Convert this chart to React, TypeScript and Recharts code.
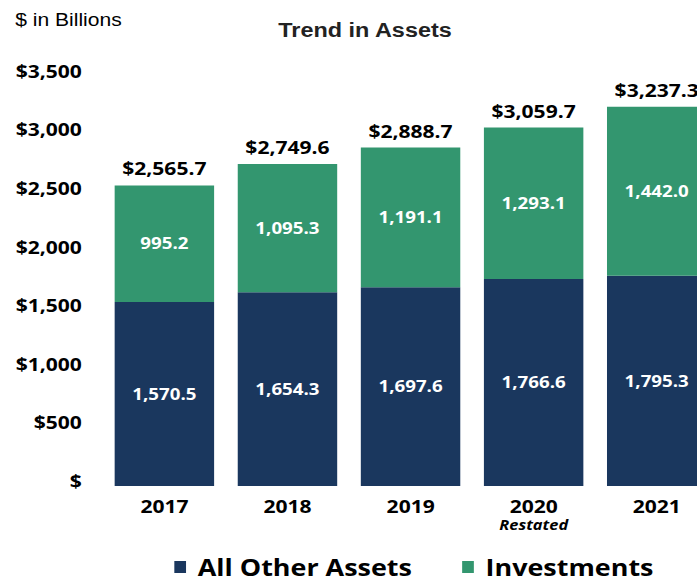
import React from 'react'
import { BarChart, Bar, XAxis, YAxis, LabelList, Legend } from 'recharts'

const years = ['2017', '2018', '2019', '2020', '2021']
const otherAssets = [1570.5, 1654.3, 1697.6, 1766.6, 1795.3]
const investments = [995.2, 1095.3, 1191.1, 1293.1, 1442.0]
const totals = [2565.7, 2749.6, 2888.7, 3059.7, 3237.3]
const yTicks = [0, 500, 1000, 1500, 2000, 2500, 3000, 3500]
const notes: Record<string, string> = { '2020': 'Restated' }

const NAVY = '#1a375e'
const GREEN = '#33966f'
const FONT = '"Open Sans", sans-serif'

const data = years.map((year, i) => ({
  year,
  other: otherAssets[i],
  investments: investments[i],
  total: totals[i],
}))

const fmt = (v: number) =>
  v.toLocaleString('en-US', { minimumFractionDigits: 1, maximumFractionDigits: 1 })

const YTick = (props: any) => {
  const { y, payload } = props
  const v = payload.value
  return (
    <text
      x={70}
      y={y - 5}
      textAnchor="end"
      dominantBaseline="central"
      fontFamily={FONT}
      fontWeight={700}
      fontSize={18}
      fill="#000"
    >
      {v === 0 ? '$' : '$' + v.toLocaleString('en-US')}
    </text>
  )
}

const XTick = (props: any) => {
  const { x, y, payload } = props
  const note = notes[payload.value]
  return (
    <g>
      <text
        x={x}
        y={y + 12}
        textAnchor="middle"
        dominantBaseline="central"
        fontFamily={FONT}
        fontWeight={700}
        fontSize={18}
        fill="#000"
      >
        {payload.value}
      </text>
      {note && (
        <text
          x={x}
          y={y + 30}
          textAnchor="middle"
          dominantBaseline="central"
          fontFamily={FONT}
          fontWeight={700}
          fontStyle="italic"
          fontSize={14}
          fill="#000"
        >
          {note}
        </text>
      )}
    </g>
  )
}

const LegendContent = () => {
  const items = [
    { name: 'All Other Assets', color: NAVY, x: 149 },
    { name: 'Investments', color: GREEN, x: 395 },
  ]
  return (
    <div style={{ position: 'relative', height: 30 }}>
      {items.map((it) => (
        <div
          key={it.name}
          style={{
            position: 'absolute',
            left: it.x,
            top: 0,
            display: 'flex',
            alignItems: 'center',
            height: 30,
            whiteSpace: 'nowrap',
          }}
        >
          <span style={{ width: 10, height: 12, background: it.color, display: 'inline-block' }} />
          <span
            style={{
              marginLeft: 10,
              fontFamily: FONT,
              fontWeight: 700,
              fontSize: 23,
              color: '#000',
            }}
          >
            {it.name}
          </span>
        </div>
      ))}
    </div>
  )
}

export default function App() {
  return (
    <div
      style={{
        position: 'fixed',
        left: 0,
        top: 0,
        width: 697,
        height: 579,
        overflow: 'hidden',
        background: '#fff',
      }}
    >
      <div
        style={{
          position: 'absolute',
          left: 0,
          top: 0,
          width: 620,
          height: 579,
          transform: 'scaleX(1.17)',
          transformOrigin: '0 0',
        }}
      >
        <div
          style={{
            position: 'absolute',
            left: 13,
            top: 9,
            fontFamily: '"Liberation Sans", Arial, sans-serif',
            fontSize: 18,
            lineHeight: '22px',
          }}
        >
          $ in Billions
        </div>
        <div
          style={{
            position: 'absolute',
            left: 212,
            width: 200,
            top: 18,
            textAlign: 'center',
            fontFamily: '"Liberation Sans", Arial, sans-serif',
            fontWeight: 700,
            fontSize: 20,
            lineHeight: '24px',
            color: '#222',
          }}
        >
          Trend in Assets
        </div>
        <BarChart
          width={620}
          height={579}
          data={data}
          margin={{ top: 76, right: 6, left: 0, bottom: 43 }}
          barSize={85}
        >
          <XAxis
            dataKey="year"
            axisLine={false}
            tickLine={false}
            tick={<XTick />}
            interval={0}
            height={50}
          />
          <YAxis
            domain={[0, 3500]}
            ticks={yTicks}
            axisLine={false}
            tickLine={false}
            tick={<YTick />}
            width={88}
          />
          <Legend
            verticalAlign="middle"
            align="center"
            layout="horizontal"
            wrapperStyle={{ top: 552, left: 0, width: 620 }}
            content={<LegendContent />}
          />
          <Bar dataKey="other" stackId="a" fill={NAVY} name="All Other Assets" isAnimationActive={false}>
            <LabelList
              dataKey="other"
              position="center"
              formatter={(v: any) => fmt(Number(v))}
              fill="#fff"
              fontFamily={FONT}
              fontWeight={700}
              fontSize={16}
            />
          </Bar>
          <Bar dataKey="investments" stackId="a" fill={GREEN} name="Investments" isAnimationActive={false}>
            <LabelList
              dataKey="investments"
              position="center"
              formatter={(v: any) => fmt(Number(v))}
              fill="#fff"
              fontFamily={FONT}
              fontWeight={700}
              fontSize={16}
            />
            <LabelList
              dataKey="total"
              position="top"
              offset={10}
              formatter={(v: any) => '$' + fmt(Number(v))}
              fill="#000"
              fontFamily={FONT}
              fontWeight={700}
              fontSize={18}
            />
          </Bar>
        </BarChart>
      </div>
    </div>
  )
}
